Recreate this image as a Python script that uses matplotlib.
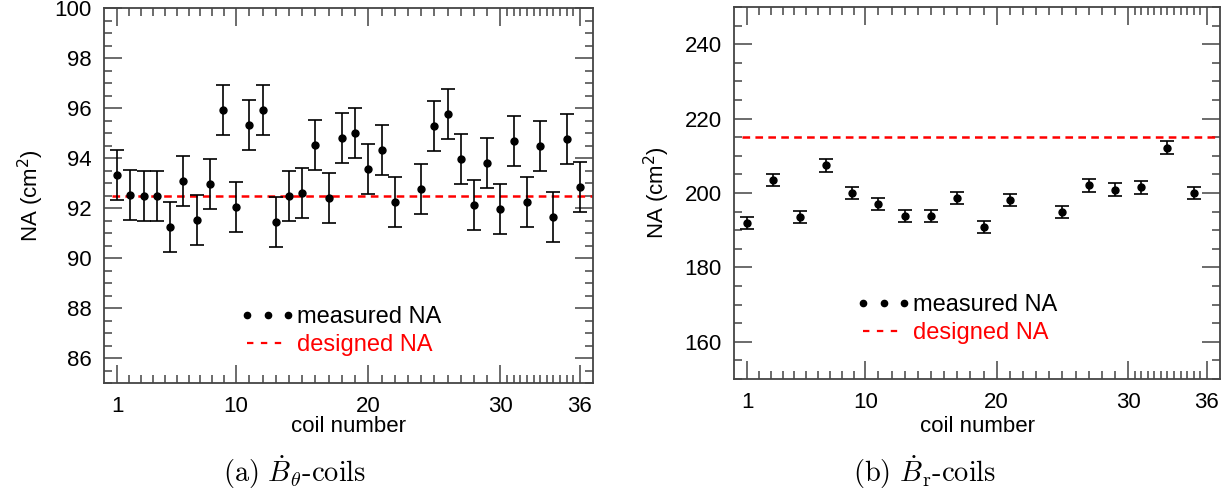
import numpy as np
import matplotlib
matplotlib.use("Agg")
import matplotlib.pyplot as plt
from matplotlib.lines import Line2D
from matplotlib.ticker import FixedLocator, MultipleLocator

plt.rcParams['font.family'] = ['Liberation Sans', 'DejaVu Sans']
plt.rcParams['lines.scale_dashes'] = False

# ---- data: (a) B_theta coils ----
coils_a = [1, 2, 3, 4, 5, 6, 7, 8, 9, 10, 11, 12, 13, 14, 15, 16, 17, 18, 19,
           20, 21, 22, 24, 25, 26, 27, 28, 29, 30, 31, 32, 33, 34, 35, 36]
na_a = [93.33, 92.54, 92.48, 92.49, 91.26, 93.10, 91.53, 92.98, 95.92, 92.05,
        95.32, 95.94, 91.44, 92.50, 92.62, 94.54, 92.41, 94.80, 95.01,
        93.57, 94.34, 92.24, 92.77, 95.30, 95.76, 93.97, 92.13, 93.82, 91.97,
        94.69, 92.26, 94.48, 91.64, 94.77, 92.84]
err_a = [1.0] * len(coils_a)
design_a = 92.5

# ---- data: (b) B_r coils ----
coils_b = [1, 3, 5, 7, 9, 11, 13, 15, 17, 19, 21, 25, 27, 29, 31, 33, 35]
na_b = [191.9, 203.5, 193.5, 207.4, 200.0, 197.0, 193.8, 193.9, 198.6, 190.9,
        198.2, 195.0, 202.1, 200.9, 201.5, 212.2, 200.0]
err_b = [1.6, 1.7, 1.6, 1.7, 1.6, 1.6, 1.6, 1.6, 1.6, 1.6,
         1.6, 1.6, 1.7, 1.7, 1.7, 1.75, 1.6]
design_b = 215.0

xticks = [1, 10, 20, 30, 36]
xtick_labels = ['1', '10', '20', '30', '36']
x_minor = list(np.linspace(1, 10, 11)) + list(np.arange(10, 30, 1.0)) + list(np.arange(30, 36.01, 0.5))

captions = [r"$\text{(a)}\ \dot{B}_\theta\text{-coils}$",
            r"$\text{(b)}\ \dot{B}_\mathrm{r}\text{-coils}$"]

W, H = 1230, 493
fig = plt.figure(figsize=(W / 100, H / 100), dpi=100)

def px_axes(x0, x1, ytop, ybot):
    return fig.add_axes([x0 / W, 1 - ybot / H, (x1 - x0) / W, (ybot - ytop) / H])

ax1 = px_axes(104, 593, 8, 383)
ax2 = px_axes(734, 1220, 7, 379)

spine_c = '#444444'
fs = 16

def style(ax, ylim, ymaj, ymin_step):
    ax.set_xlim(0, 37)
    ax.set_ylim(*ylim)
    ax.xaxis.set_major_locator(FixedLocator(xticks))
    ax.set_xticklabels(xtick_labels)
    ax.xaxis.set_minor_locator(FixedLocator(x_minor))
    ax.yaxis.set_major_locator(FixedLocator(ymaj))
    ax.yaxis.set_minor_locator(MultipleLocator(ymin_step))
    for s in ax.spines.values():
        s.set_color(spine_c)
        s.set_linewidth(1.3)
    ax.tick_params(which='both', direction='in', top=True, right=True,
                   color=spine_c, width=1.1, labelsize=fs)
    ax.tick_params(which='major', length=13)
    ax.tick_params(which='minor', length=6)
    ax.tick_params(axis='x', which='major', pad=9)
    ax.tick_params(axis='y', which='major', pad=9)
    ax.set_ylabel(r"NA (cm$^2$)", fontsize=fs, va='center', math_fontfamily='dejavusans')
    ax.set_xlabel("coil number", fontsize=fs, va='center')

def draw(ax, x, y, e, design, leg_anchor):
    ax.errorbar(x, y, yerr=e, fmt='o', ms=5, color='black', ecolor='black',
                elinewidth=1.2, capsize=5, capthick=1.2, zorder=3)
    ax.hlines(design, 0.6, 37, colors='red', linestyles=(0, (5.5, 3.8)), lw=1.8, zorder=2)
    handles = [Line2D([], [], ls='none', marker='o', ms=4.5, color='black'),
               Line2D([], [], ls=(0, (4.6, 5.4)), lw=1.6, color='red')]
    ax.legend(handles, ['measured NA', 'designed NA'], numpoints=3,
              handlelength=2.35, handletextpad=0.05, labelspacing=0.25,
              frameon=False, fontsize=17, labelcolor=['black', 'red'],
              loc='upper left', bbox_to_anchor=leg_anchor,
              borderpad=0, borderaxespad=0)

style(ax1, (85, 100), list(range(86, 101, 2)), 0.5)
style(ax2, (150, 250), list(range(160, 241, 20)), 5)
draw(ax1, coils_a, na_a, err_a, design_a, (0.278, 0.205))
draw(ax2, coils_b, na_b, err_b, design_b, (0.251, 0.228))

ax1.yaxis.set_label_coords(-0.15, 0.5)
ax2.yaxis.set_label_coords(-0.159, 0.5)
ax1.xaxis.set_label_coords(0.5, -0.117)
ax2.xaxis.set_label_coords(0.5, -0.129)

fig.text(295 / W, 1 - 472 / H, captions[0], ha='center', va='center',
         fontsize=20.5, math_fontfamily='cm')
fig.text(925 / W, 1 - 472 / H, captions[1], ha='center', va='center',
         fontsize=20.5, math_fontfamily='cm')

fig.savefig("out.png", dpi=100)
